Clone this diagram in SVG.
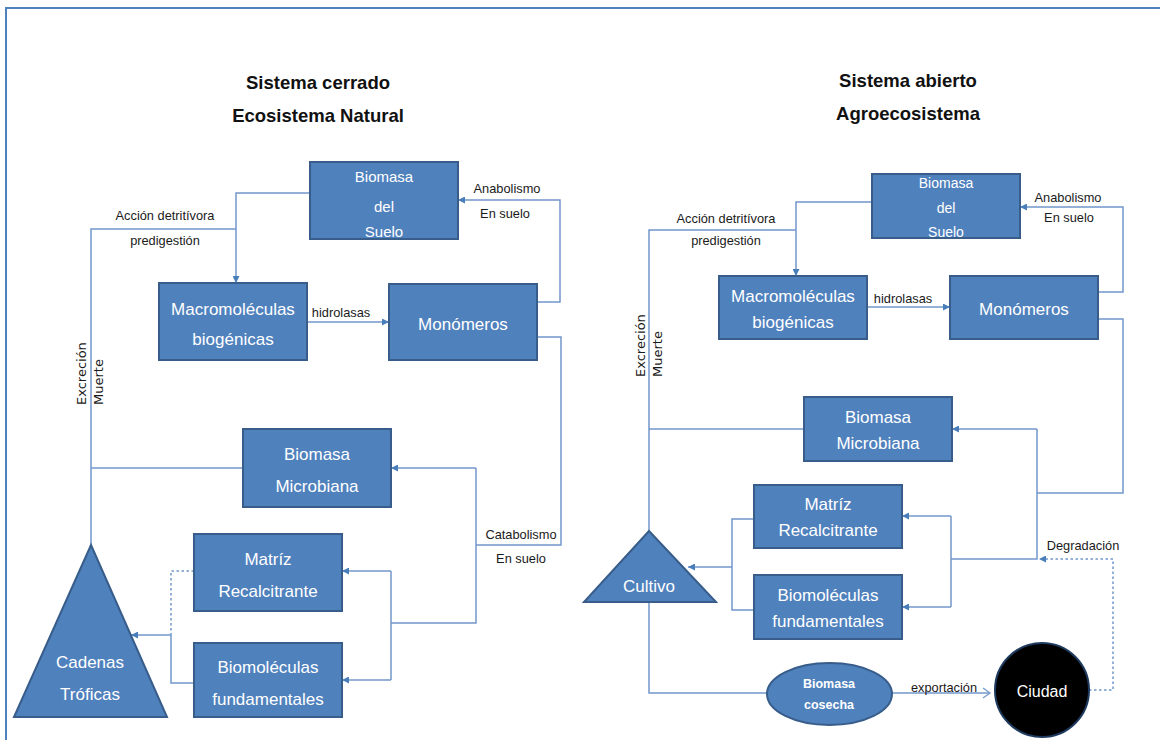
<svg xmlns="http://www.w3.org/2000/svg" width="1160" height="740" viewBox="0 0 1160 740">
<defs>
<marker id="ah" markerWidth="7" markerHeight="7" refX="7" refY="3.5" orient="auto" markerUnits="userSpaceOnUse"><path d="M0,0 L7,3.5 L0,7 z" fill="#4A7EBB"/></marker>
<marker id="oa" markerWidth="10" markerHeight="12" refX="8" refY="6" orient="auto" markerUnits="userSpaceOnUse"><path d="M1,1 L8,6 L1,11" fill="none" stroke="#7A9CCB" stroke-width="1.4"/></marker>
<style>
.box{fill:#4F81BD;stroke:#385D8A;stroke-width:2}
.bt{font-family:"Liberation Sans",Arial,sans-serif;font-size:17px;fill:#ffffff;text-anchor:middle}
.bs{font-size:15px}
.bs2{font-size:14px}
.lb{font-family:"Liberation Sans",Arial,sans-serif;font-size:12.8px;fill:#1a1a1a;text-anchor:middle}
.ttl{font-family:"Liberation Sans",Arial,sans-serif;font-size:18.5px;font-weight:bold;fill:#111;text-anchor:middle}
.rot{font-family:"DejaVu Sans",Verdana,sans-serif;font-size:13px;fill:#1a1a1a}
.c{fill:none;stroke:#7397CB;stroke-width:1.5}
.d{fill:none;stroke:#7397CB;stroke-width:1.5;stroke-dasharray:2.5 2.5}
</style>
</defs>
<rect width="1160" height="740" fill="#ffffff"/>
<path d="M6,740 L6,8 L1160,8" fill="none" stroke="#4F81BD" stroke-width="2"/>

<g id="titles">
<text class="ttl" x="318" y="89">Sistema cerrado</text>
<text class="ttl" x="318" y="122">Ecosistema Natural</text>
<text class="ttl" x="908" y="87">Sistema abierto</text>
<text class="ttl" x="908" y="120">Agroecosistema</text>
</g>

<g id="connectors">
<!-- left panel -->
<path class="c" d="M310,193 L236,193 L236,283" marker-end="url(#ah)"/>
<path class="c" d="M236,229 L91,229 L91,545"/>
<path class="c" d="M307,322 L389,322" marker-end="url(#ah)"/>
<path class="c" d="M537,302 L560,302 L560,200 L458,200" marker-end="url(#ah)"/>
<path class="c" d="M537,337 L561,337 L561,545 L476,545"/>
<path class="c" d="M476,468 L391,468" marker-end="url(#ah)"/>
<path class="c" d="M476,468 L476,623 L391,623"/>
<path class="c" d="M243,468 L91,468"/>
<path class="c" d="M391,571 L391,680"/>
<path class="c" d="M391,571 L342,571" marker-end="url(#ah)"/>
<path class="c" d="M391,680 L342,680" marker-end="url(#ah)"/>
<path class="d" d="M194,571 L171,571 L171,635"/>
<path class="c" d="M194,683 L171,683 L171,635"/>
<path class="c" d="M171,635 L131,635" marker-end="url(#ah)"/>
<!-- right panel -->
<path class="c" d="M872,202 L796,202 L796,276" marker-end="url(#ah)"/>
<path class="c" d="M796,230 L649,230 L649,531"/>
<path class="c" d="M867,307 L950,307" marker-end="url(#ah)"/>
<path class="c" d="M1098,292 L1123,292 L1123,207 L1020,207" marker-end="url(#ah)"/>
<path class="c" d="M1098,319 L1123,319 L1123,493 L1037,493"/>
<path class="c" d="M1037,429 L952,429" marker-end="url(#ah)"/>
<path class="c" d="M1037,429 L1037,559 L951,559"/>
<path class="c" d="M804,429 L649,429"/>
<path class="c" d="M951,516 L951,607"/>
<path class="c" d="M951,516 L902,516" marker-end="url(#ah)"/>
<path class="c" d="M951,607 L902,607" marker-end="url(#ah)"/>
<path class="c" d="M754,519 L732,519 L732,610 L754,610"/>
<path class="c" d="M732,567 L688,567" marker-end="url(#ah)"/>
<path class="c" d="M649,602 L649,693 L767,693"/>
<path class="c" d="M892,693 L990,693" marker-end="url(#oa)"/>
<path class="d" d="M1089,690 L1113,690 L1113,559 L1039,559" marker-end="url(#ah)"/>
</g>

<g id="labels">
<text class="lb" x="165" y="220">Acción detritívora</text>
<text class="lb" x="165" y="245">predigestión</text>
<text class="lb" x="341" y="317">hidrolasas</text>
<text class="lb" x="507" y="193">Anabolismo</text>
<text class="lb" x="505" y="218">En suelo</text>
<text class="lb" x="521" y="539">Catabolismo</text>
<text class="lb" x="521" y="563">En suelo</text>
<text class="rot" transform="translate(86,405) rotate(-90)">Excreción</text>
<text class="rot" transform="translate(103,405) rotate(-90)">Muerte</text>
<text class="lb" x="726" y="223">Acción detritívora</text>
<text class="lb" x="726" y="245">predigestión</text>
<text class="lb" x="903" y="303">hidrolasas</text>
<text class="lb" x="1068" y="202">Anabolismo</text>
<text class="lb" x="1069" y="222">En suelo</text>
<text class="lb" x="1083" y="550">Degradación</text>
<text class="lb" x="944" y="692">exportación</text>
<text class="rot" transform="translate(645,377) rotate(-90)">Excreción</text>
<text class="rot" transform="translate(662,377) rotate(-90)">Muerte</text>
</g>

<g id="L-biomasa-suelo"><rect class="box" x="310" y="162" width="148" height="77"/>
<text class="bt bs" x="384" y="182">Biomasa</text><text class="bt bs" x="384" y="212">del</text><text class="bt bs" x="384" y="237">Suelo</text></g>
<g id="L-macromoleculas"><rect class="box" x="159" y="283" width="148" height="77"/>
<text class="bt" x="233" y="315">Macromoléculas</text><text class="bt" x="233" y="345">biogénicas</text></g>
<g id="L-monomeros"><rect class="box" x="389" y="284" width="148" height="76"/>
<text class="bt" x="463" y="330">Monómeros</text></g>
<g id="L-biomasa-microbiana"><rect class="box" x="243" y="429" width="148" height="78"/>
<text class="bt" x="317" y="460">Biomasa</text><text class="bt" x="317" y="492">Microbiana</text></g>
<g id="L-matriz"><rect class="box" x="194" y="534" width="148" height="77"/>
<text class="bt" x="268" y="565">Matríz</text><text class="bt" x="268" y="597">Recalcitrante</text></g>
<g id="L-biomoleculas"><rect class="box" x="194" y="643" width="148" height="74"/>
<text class="bt" x="268" y="673">Biomoléculas</text><text class="bt" x="268" y="705">fundamentales</text></g>
<g id="L-cadenas"><polygon class="box" points="91,545 167,717 14,717"/>
<text class="bt" x="90" y="668">Cadenas</text><text class="bt" x="90" y="700">Tróficas</text></g>

<g id="R-biomasa-suelo"><rect class="box" x="872" y="174" width="148" height="64"/>
<text class="bt bs2" x="946" y="188">Biomasa</text><text class="bt bs2" x="946" y="213">del</text><text class="bt bs2" x="946" y="237">Suelo</text></g>
<g id="R-macromoleculas"><rect class="box" x="719" y="276" width="148" height="63"/>
<text class="bt" x="793" y="302">Macromoléculas</text><text class="bt" x="793" y="328">biogénicas</text></g>
<g id="R-monomeros"><rect class="box" x="950" y="276" width="148" height="63"/>
<text class="bt" x="1024" y="315">Monómeros</text></g>
<g id="R-biomasa-microbiana"><rect class="box" x="804" y="397" width="148" height="64"/>
<text class="bt" x="878" y="423">Biomasa</text><text class="bt" x="878" y="449">Microbiana</text></g>
<g id="R-matriz"><rect class="box" x="754" y="485" width="148" height="63"/>
<text class="bt" x="828" y="510">Matríz</text><text class="bt" x="828" y="536">Recalcitrante</text></g>
<g id="R-biomoleculas"><rect class="box" x="754" y="575" width="148" height="64"/>
<text class="bt" x="828" y="601">Biomoléculas</text><text class="bt" x="828" y="627">fundamentales</text></g>
<g id="R-cultivo"><polygon class="box" points="649,531 716,602 584,602"/>
<text class="bt" x="649" y="592">Cultivo</text></g>
<g id="R-biomasa-cosecha"><ellipse class="box" cx="829.5" cy="694" rx="62.5" ry="31"/>
<text class="bt" x="829" y="688" style="font-size:12.5px;font-weight:bold">Biomasa</text><text class="bt" x="829" y="709" style="font-size:12.5px;font-weight:bold">cosecha</text></g>
<g id="R-ciudad"><circle cx="1042" cy="690" r="47" fill="#000000" stroke="#1F3A5F" stroke-width="2"/>
<text class="bt" x="1042" y="697" style="font-size:16px">Ciudad</text></g>
</svg>
